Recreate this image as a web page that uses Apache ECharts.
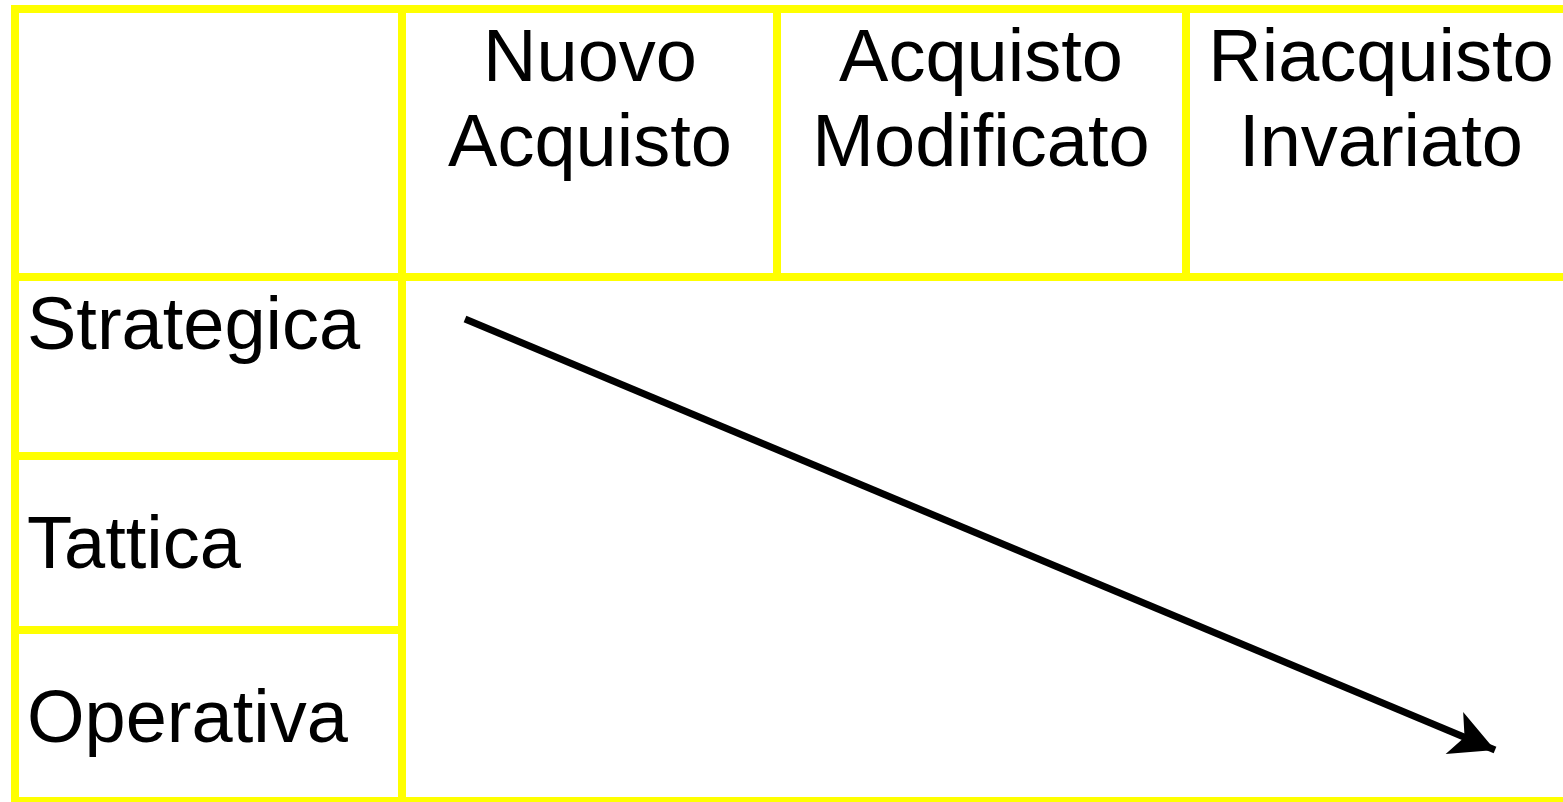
<!DOCTYPE html>
<html><head><meta charset="utf-8">
<script src="https://cdn.jsdelivr.net/npm/echarts@6/dist/echarts.min.js"></script>
<style>html,body{margin:0;padding:0;background:#fff}#c{width:1563px;height:802px}</style>
</head><body><div id="c"></div>
<script>
// Data
var columns = ['Nuovo\nAcquisto', 'Acquisto\nModificato', 'Riacquisto\nInvariato'];
var rows = ['Strategica', 'Tattica', 'Operativa'];
var arrowFrom = [465, 319];
var arrowTo = [1495, 750];

// Layout (pixel-space coordinates of the diagram on value axes)
var W = 1563, H = 802;
var colEdges = [15, 402, 777, 1186, 1576];
var rowEdges = [9, 277, 456, 630, 801];
var headerX = [590, 981, 1381];
var headerY = 103;
var rowLabelY = [329, 548, 722];
var rowLabelX = 27;
var Y = '#ffff00';

var segs = [];
[rowEdges[0], rowEdges[1], rowEdges[4]].forEach(function (y) { segs.push([[11, y], [W, y]]); });
[rowEdges[2], rowEdges[3]].forEach(function (y) { segs.push([[colEdges[0] - 4, y], [colEdges[1] + 4, y]]); });
segs.push([[colEdges[0], 5], [colEdges[0], H]]);
segs.push([[colEdges[1], 5], [colEdges[1], H]]);
[colEdges[2], colEdges[3]].forEach(function (x) { segs.push([[x, 5], [x, rowEdges[1] + 4]]); });

var font = {fontFamily: '"Liberation Sans", Arial, sans-serif', fontSize: 74, color: '#000000',
  lineHeight: 85, textBorderWidth: 0, opacity: 1};

var series = segs.map(function (s) {
  return {
    type: 'line', data: s, symbol: 'none', silent: true, z: 1,
    lineStyle: {color: Y, width: 8, cap: 'butt'}
  };
});
series.push({
  type: 'scatter', symbolSize: 0, itemStyle: {color: '#000'}, silent: true, z: 3,
  data: columns.map(function (c, i) { return {value: [headerX[i], headerY], name: c}; }),
  label: Object.assign({show: true, position: 'inside', align: 'center', verticalAlign: 'middle',
    formatter: function (p) { return p.name; }}, font)
});
series.push({
  type: 'scatter', symbolSize: 0, itemStyle: {color: '#000'}, silent: true, z: 3,
  data: rows.map(function (r, i) { return {value: [rowLabelX, rowLabelY[i]], name: r}; }),
  label: Object.assign({show: true, position: 'right', distance: 0, align: 'left', verticalAlign: 'middle',
    formatter: function (p) { return p.name; }}, font)
});
series.push({
  type: 'line', data: [], silent: true, z: 4,
  markLine: {
    silent: true, animation: false, symbol: ['none', 'arrow'], symbolSize: [34, 44],
    label: {show: false},
    lineStyle: {color: '#000', width: 7, type: 'solid'},
    data: [[{coord: arrowFrom}, {coord: arrowTo}]]
  }
});

var chart = echarts.init(document.getElementById('c'), null, {renderer: 'canvas'});
chart.setOption({
  backgroundColor: '#fff',
  animation: false,
  grid: {left: 0, right: 0, top: 0, bottom: 0},
  xAxis: {type: 'value', min: 0, max: W, show: false},
  yAxis: {type: 'value', min: 0, max: H, inverse: true, show: false},
  series: series
});
</script></body></html>
